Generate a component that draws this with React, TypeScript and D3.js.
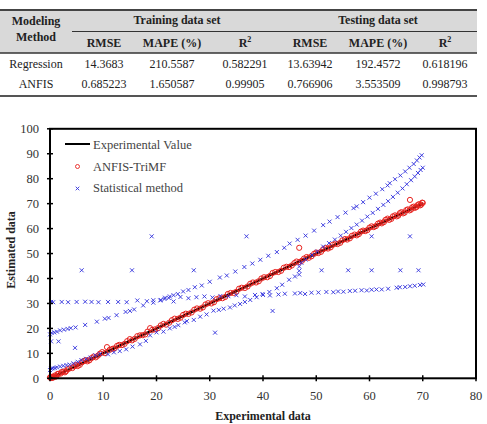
import React from 'react';
import * as d3 from 'd3';

// Error table
const methods = ['Regression', 'ANFIS'];
const metricHeaders = ['RMSE', 'MAPE (%)', 'R', 'RMSE', 'MAPE (%)', 'R'];
const regressionRow = ['14.3683', '210.5587', '0.582291', '13.63942', '192.4572', '0.618196'];
const anfisRow = ['0.685223', '1.650587', '0.99905', '0.766906', '3.553509', '0.998793'];

// Experimental value line (estimated == experimental)
const expX = [0, 70];
const expY = [0, 70];

// ANFIS-TriMF estimates, training samples
const anfisX = [0, 0.2, 0.4, 0.6, 0.9, 1.2, 1.6, 2, 2.5, 3, 3.6, 4.2, 4.9, 5.6, 6.3, 7, 7.8, 8.6, 9.4, 10.3, 10.7, 11.2, 12.1, 13, 14, 15, 15.9, 16.9, 17.9, 18.8, 19.2, 20.3, 21.3, 22.4, 23.4, 24.5, 25.5, 26.6, 27.6, 28.7, 29.7, 30.8, 31.8, 32.9, 33.9, 35, 36, 37.1, 38.1, 39.2, 40.2, 41.3, 42.3, 43.4, 44.4, 45.4, 46.3, 46.8, 47.3, 48.2, 49.1, 50, 50.9, 51.8, 52.7, 53.6, 54.5, 55.4, 56.3, 57.2, 58, 58.8, 59.6, 60.4, 61.2, 62, 62.7, 63.4, 64.1, 64.8, 65.4, 66, 66.6, 67.2, 67.6, 67.8, 68.3, 68.8, 69.3, 69.7, 70];
const anfisY = [0.3, 0.1, 0.6, 0.4, 1.1, 0.9, 1.8, 1.9, 2.7, 2.8, 3.9, 4.1, 5.3, 5.4, 6.9, 6.8, 8.1, 8.4, 9.9, 10.1, 12.5, 11.4, 12, 13.4, 13.8, 15.7, 15.8, 17.2, 17.6, 20.1, 19.4, 20.1, 21.8, 22.3, 23.9, 24.3, 25.9, 26.4, 28, 28.4, 30.1, 30.5, 32.1, 32.6, 34.2, 34.7, 36.3, 36.8, 38.4, 38.9, 40.5, 41, 42.6, 43.1, 44.7, 45.2, 46.8, 52.3, 47.1, 48.6, 48.9, 50.4, 50.7, 52.2, 52.5, 54, 54.3, 55.8, 56.1, 57.6, 57.8, 59.2, 59.4, 60.9, 61, 62.4, 62.6, 64, 63.9, 65.3, 65.2, 66.6, 66.4, 67.7, 71.5, 67.6, 68.8, 68.6, 69.8, 69.6, 70.3];

// ANFIS-TriMF estimates, testing samples
const anfisTestX = [0.1, 0.5, 1, 1.4, 2.2, 2.8, 3.3, 4.5, 5.2, 6, 6.7, 7.4, 8.2, 9, 9.8, 11.7, 12.6, 13.5, 14.5, 15.4, 16.4, 17.4, 18.3, 19.7, 20.8, 21.8, 22.9, 24, 25, 26, 27.1, 28.2, 29.2, 30.3, 31.3, 32.4, 33.4, 34.5, 35.5, 36.6, 37.6, 38.7, 39.7, 40.8, 41.8, 42.9, 43.9, 44.9, 45.9, 46.8, 47.7, 48.6, 49.6, 50.4, 51.3, 52.2, 53.1, 54, 54.9, 55.8, 56.7, 57.6, 58.4, 59.2, 60, 60.8, 61.6, 62.3, 63, 63.7, 64.4, 65.1, 65.7, 66.3, 66.9, 67.5, 68, 68.5, 69, 69.5, 69.9];
const anfisTestY = [0.5, 0.2, 0.6, 1.7, 2.5, 2.4, 3.6, 4.8, 4.9, 6.4, 7.3, 7.2, 8.7, 9.1, 10.5, 11.8, 13, 13.3, 14.9, 15.2, 16.9, 17.3, 18.7, 19.6, 21.2, 21.5, 23.3, 23.8, 25.4, 25.8, 27.5, 27.9, 29.6, 30, 31.7, 32.1, 33.8, 34.2, 35.9, 36.2, 37.9, 38.4, 40, 40.5, 42.2, 42.6, 44.3, 44.6, 46.2, 46.6, 48, 48.3, 49.9, 50.2, 51.7, 52, 53.5, 53.8, 55.3, 55.6, 57.1, 57.3, 58.8, 59, 60.4, 60.6, 62, 62.1, 63.5, 63.5, 64.9, 64.9, 66.2, 66.1, 67.4, 67.3, 68.5, 68.3, 69.4, 69.3, 70.4];

// Statistical method estimates, upper curve
const statUpperX = [0, 0.3, 0.8, 1.3, 1.9, 2.6, 3.3, 3.9, 4.8, 6.6, 8.8, 10.3, 11, 12.5, 14.2, 15, 15.8, 17.5, 19.4, 20.8, 21.6, 22.5, 23.2, 24, 25, 26, 27.2, 28.5, 30, 31.9, 33.2, 34.8, 36.5, 38, 39.5, 41, 42.6, 44, 45, 46.5, 48, 49.6, 51.3, 52.5, 54, 55.5, 57, 57.6, 58.8, 60, 61.2, 62.4, 63.4, 63.8, 64.8, 65.8, 66.7, 67.5, 68.3, 68.9, 69.4, 69.8];
const statUpperY = [17.6, 18.2, 18.4, 18.7, 19.2, 19.5, 19.8, 20.1, 20.4, 21.4, 22.7, 23.9, 24.2, 25.3, 26.6, 27, 27.6, 29.2, 30.3, 31.4, 32.3, 32.8, 33.3, 33.8, 34.8, 35.4, 36.5, 37.2, 38.7, 40.4, 41.2, 42.8, 44.6, 46, 47.5, 49.1, 50.6, 52.3, 54, 55.5, 57.2, 59.2, 61.4, 62.8, 64.6, 66.4, 68.2, 68.9, 70.6, 72.4, 74, 75.8, 77.3, 78.2, 79.8, 81.3, 82.9, 84.4, 85.9, 87.3, 88.5, 89.4];

// Statistical method estimates, lower / middle curve
const statMidX = [0, 0.2, 0.5, 0.9, 1.3, 1.9, 2.5, 3.1, 3.7, 4.4, 5.2, 5.9, 6.8, 7.6, 8.5, 9.4, 10.9, 12, 13.1, 14.3, 15.5, 16.9, 18, 18.8, 20, 21.3, 22.5, 23.4, 24.1, 25.3, 25.7, 27, 28.2, 29.4, 30.7, 31.7, 32.6, 33.8, 34.7, 35.7, 36.6, 37.6, 38.8, 40, 41.2, 42.6, 43.6, 44.9, 46, 46.8, 46.8, 46.8, 47.2, 48, 49.2, 50.2, 51.3, 52.4, 53.5, 54.6, 55.6, 56.6, 57.6, 58.6, 59.6, 60.6, 61.6, 62.6, 63.5, 64.4, 65.3, 66.2, 67, 67.8, 68.5, 69.1, 69.6, 70];
const statMidY = [3.3, 3.8, 4, 4.1, 4.4, 4.7, 5, 5.3, 5.5, 6, 6.6, 7.3, 7.8, 8.3, 9.2, 9.8, 9.6, 10.4, 10.9, 11.6, 12.7, 13.6, 15, 17.2, 18.4, 18.7, 20, 20.6, 21.3, 22.4, 22.9, 23.4, 24.7, 25.6, 27.1, 27.4, 27.9, 28.4, 29.2, 29.8, 30.6, 31.4, 32.5, 33.4, 34.6, 36.1, 37.5, 39.5, 40.8, 41.6, 43.1, 44.8, 46.3, 47.6, 49.4, 50.8, 52.8, 54.2, 55.6, 57.2, 58.7, 60.2, 61.6, 63.2, 64.8, 66.3, 67.9, 69.5, 71, 72.7, 74.4, 76.1, 77.8, 79.4, 80.9, 82.3, 83.5, 84.4];

// Statistical method estimates, flat curve
const statFlatX = [0.2, 0.6, 2.2, 3.4, 5, 6.6, 7.8, 9.1, 10.9, 12.8, 14.4, 16.4, 18.2, 19.4, 20.7, 21.5, 22.3, 23.2, 24.5, 26, 27.5, 29, 30.5, 32, 33.5, 35, 36.6, 38.5, 39.9, 41.3, 42.9, 44.1, 46, 47, 47.9, 49.1, 50.4, 51.9, 53.2, 54.1, 55.1, 56.3, 57.3, 58.5, 59.5, 60.4, 61.3, 62.3, 63.5, 65.1, 65.7, 66.7, 67.6, 68.5, 69.5, 70.1];
const statFlatY = [30.6, 30.5, 30.6, 30.5, 30.6, 30.7, 30.6, 30.5, 30.6, 30.6, 30.5, 31.2, 30.9, 31.3, 31.2, 31.8, 32.2, 30.8, 32.6, 32.1, 32.5, 32.8, 32.4, 33, 32.9, 33.3, 32.8, 33.4, 33.8, 33.2, 33.6, 33.9, 34, 34.2, 33.8, 34.3, 34.4, 34.6, 34.5, 34.8, 34.7, 35, 35.1, 35.3, 35.2, 35.5, 35.6, 35.6, 35.9, 36.3, 36.5, 36.6, 36.9, 37.1, 37.4, 37.6];

// Statistical method estimates, scattered points
const statOtherX = [5.95, 15.4, 27, 51, 56, 60.4, 65.8, 69.2, 19.1, 36.9, 60.4, 67.6, 0.2, 1.6, 4.7, 31, 41.8];
const statOtherY = [43.3, 43.3, 43.3, 43.3, 43.3, 43.3, 43.3, 43.3, 56.9, 56.9, 56.9, 56.9, 14.8, 14.8, 12.2, 18.3, 27];

const xTicks = [0, 10, 20, 30, 40, 50, 60, 70, 80];
const yTicks = [0, 10, 20, 30, 40, 50, 60, 70, 80, 90, 100];

const serif = '"Liberation Serif", "Times New Roman", serif';
const RED = '#e8231f';
const BLUE = '#2f2fdc';

const zip = (xs: number[], ys: number[]) => xs.map((x, i) => [x, ys[i]] as [number, number]);

const Cross: React.FC<{ cx: number; cy: number; s?: number }> = ({ cx, cy, s = 2 }) => (
  <path
    d={`M${cx - s},${cy - s}L${cx + s},${cy + s}M${cx - s},${cy + s}L${cx + s},${cy - s}`}
    stroke={BLUE}
    strokeWidth={0.9}
    fill="none"
  />
);

const Table: React.FC = () => {
  const colX = [104, 172, 245, 310, 378, 445];
  const rows = [regressionRow, anfisRow];
  const rowY = [64, 84];
  return (
    <g fontFamily={serif} fontSize={12} fill="#222" textAnchor="middle">
      <rect x={0} y={10} width={477} height={43} fill="#d9d9d9" />
      <line x1={0} x2={477} y1={10} y2={10} stroke="#444" strokeWidth={2} />
      <line x1={72} x2={477} y1={31.5} y2={31.5} stroke="#333" strokeWidth={1.2} />
      <line x1={0} x2={477} y1={53} y2={53} stroke="#333" strokeWidth={1.4} />
      <line x1={0} x2={477} y1={96} y2={96} stroke="#555" strokeWidth={2} />

      <g fontWeight="bold">
        <text x={36} y={25}>Modeling</text>
        <text x={36} y={41}>Method</text>
        <text x={177} y={24}>Training data set</text>
        <text x={378} y={24}>Testing data set</text>
        {metricHeaders.map((h, i) => (
          <text key={i} x={colX[i]} y={47}>
            {h}
            {h === 'R' && <tspan dy={-5} fontSize={8}>2</tspan>}
          </text>
        ))}
      </g>

      {methods.map((m, r) => (
        <g key={m}>
          <text x={36} y={rowY[r] + 4}>{m}</text>
          {rows[r].map((v, i) => (
            <text key={i} x={colX[i]} y={rowY[r] + 4}>{v}</text>
          ))}
        </g>
      ))}
    </g>
  );
};

const Chart: React.FC = () => {
  const x = d3.scaleLinear().domain([0, 80]).range([50, 476]);
  const y = d3.scaleLinear().domain([0, 100]).range([378.3, 128.8]);

  const line = d3.line<[number, number]>().x(d => x(d[0])).y(d => y(d[1]));
  const anfisPoints = [...zip(anfisX, anfisY), ...zip(anfisTestX, anfisTestY)];
  const statPoints = [
    ...zip(statUpperX, statUpperY),
    ...zip(statMidX, statMidY),
    ...zip(statFlatX, statFlatY),
    ...zip(statOtherX, statOtherY),
  ];

  return (
    <g fontFamily={serif}>
      <path d={line(zip(expX, expY)) ?? ''} stroke="#000" strokeWidth={2.4} fill="none" />

      {anfisPoints.map((d, i) => (
        <circle key={i} cx={x(d[0])} cy={y(d[1])} r={2.6} fill="none" stroke={RED} strokeWidth={1} />
      ))}

      {statPoints.map((d, i) => (
        <Cross key={i} cx={x(d[0])} cy={y(d[1])} />
      ))}

      {/* frame */}
      <rect x={x(0)} y={y(100)} width={x(80) - x(0)} height={y(0) - y(100)} fill="none" stroke="#000" strokeWidth={2} />

      {xTicks.map(t => (
        <g key={t}>
          <line x1={x(t)} x2={x(t)} y1={y(0) - 3} y2={y(0) + 3} stroke="#000" strokeWidth={1.5} />
          <text x={x(t)} y={y(0) + 22} fontSize={12.5} fill="#333" textAnchor="middle">{t}</text>
        </g>
      ))}
      {yTicks.map(t => (
        <g key={t}>
          <line x1={x(0) - 3} x2={x(0) + 3} y1={y(t)} y2={y(t)} stroke="#000" strokeWidth={1.5} />
          <text x={39} y={y(t) + 4.5} fontSize={12.5} fill="#333" textAnchor="end">{t}</text>
        </g>
      ))}

      <text x={263} y={420} fontSize={12} fontWeight="bold" fill="#222" textAnchor="middle">Experimental data</text>
      <text
        transform={`translate(15,250) rotate(-90)`}
        fontSize={12}
        fontWeight="bold"
        fill="#222"
        textAnchor="middle"
      >
        Estimated data
      </text>

      {/* legend */}
      <g fontSize={12.5} fill="#444">
        <line x1={65} x2={90} y1={144} y2={144} stroke="#000" strokeWidth={2} />
        <text x={93} y={148.5}>Experimental Value</text>
        <circle cx={77.5} cy={166.5} r={2} fill="none" stroke={RED} strokeWidth={0.9} />
        <text x={93} y={170.5}>ANFIS-TriMF</text>
        <Cross cx={77.5} cy={188.5} s={1.8} />
        <text x={93} y={192}>Statistical method</text>
      </g>
    </g>
  );
};

export default function App() {
  return (
    <svg
      width={487}
      height={424}
      style={{ position: 'absolute', left: 0, top: 0, background: '#fff' }}
    >
      <Table />
      <Chart />
    </svg>
  );
}
